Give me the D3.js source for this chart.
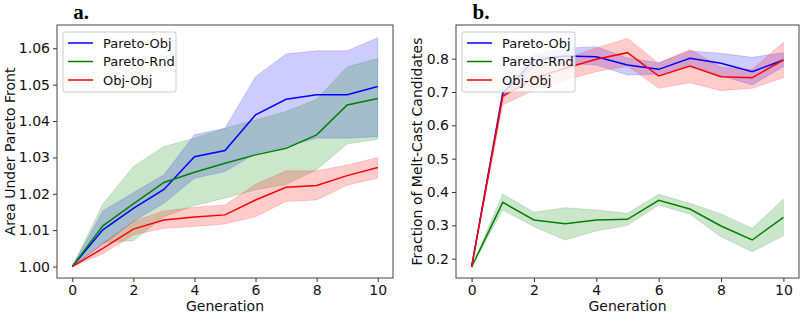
<!DOCTYPE html>
<html>
<head>
<meta charset="utf-8">
<script src="https://cdn.jsdelivr.net/npm/d3@7"></script>
<style>
  body { margin: 0; background: #fff; }
  svg { display: block; font-family: "DejaVu Sans", sans-serif; }
</style>
</head>
<body>
<svg id="chart" width="803" height="315"></svg>
<script>
var generations = [0, 1, 2, 3, 4, 5, 6, 7, 8, 9, 10];
var seriesNames = ["Pareto-Obj", "Pareto-Rnd", "Obj-Obj"];
var seriesColors = ["#0000ff", "#008000", "#ff0000"];

// panel a: area under pareto front (mean, lower, upper)
var areaParetoObj = [1.000, 1.0101, 1.0160, 1.0212, 1.0302, 1.0319, 1.0417, 1.0460, 1.0472, 1.0472, 1.0495];
var areaParetoObjLo = [1.000, 1.0060, 1.0124, 1.0174, 1.0243, 1.0261, 1.0311, 1.0330, 1.0353, 1.0353, 1.0357];
var areaParetoObjHi = [1.000, 1.0153, 1.0203, 1.0252, 1.0362, 1.0380, 1.0522, 1.0584, 1.0593, 1.0593, 1.0629];
var areaParetoRnd = [1.000, 1.0112, 1.0172, 1.0231, 1.0259, 1.0284, 1.0307, 1.0325, 1.0362, 1.0444, 1.0462];
var areaParetoRndLo = [1.000, 1.0066, 1.0071, 1.0137, 1.0168, 1.0188, 1.0211, 1.0226, 1.0266, 1.0337, 1.0350];
var areaParetoRndHi = [1.000, 1.0172, 1.0275, 1.0330, 1.0353, 1.0380, 1.0403, 1.0426, 1.0460, 1.0549, 1.0572];
var areaObjObj = [1.000, 1.0050, 1.0103, 1.0128, 1.0136, 1.0142, 1.0183, 1.0218, 1.0223, 1.0250, 1.0272];
var areaObjObjLo = [1.000, 1.0035, 1.0087, 1.0105, 1.0110, 1.0117, 1.0137, 1.0179, 1.0183, 1.0224, 1.0243];
var areaObjObjHi = [1.000, 1.0064, 1.0124, 1.0153, 1.0163, 1.0169, 1.0226, 1.0263, 1.0263, 1.0279, 1.0300];

// panel b: fraction of melt-cast candidates
var fracParetoObj = [0.175, 0.696, 0.795, 0.808, 0.806, 0.781, 0.768, 0.801, 0.786, 0.761, 0.796];
var fracParetoObjLo = [0.175, 0.680, 0.775, 0.786, 0.781, 0.751, 0.753, 0.781, 0.749, 0.721, 0.776];
var fracParetoObjHi = [0.175, 0.712, 0.812, 0.831, 0.836, 0.802, 0.788, 0.823, 0.816, 0.804, 0.818];
var fracParetoRnd = [0.175, 0.369, 0.316, 0.305, 0.316, 0.318, 0.375, 0.349, 0.298, 0.256, 0.324];
var fracParetoRndLo = [0.175, 0.346, 0.296, 0.256, 0.283, 0.300, 0.361, 0.333, 0.266, 0.221, 0.269];
var fracParetoRndHi = [0.175, 0.394, 0.339, 0.353, 0.346, 0.336, 0.393, 0.366, 0.334, 0.291, 0.379];
var fracObjObj = [0.175, 0.688, 0.741, 0.771, 0.798, 0.818, 0.748, 0.778, 0.746, 0.743, 0.796];
var fracObjObjLo = [0.175, 0.661, 0.706, 0.736, 0.761, 0.778, 0.711, 0.728, 0.704, 0.711, 0.743];
var fracObjObjHi = [0.175, 0.701, 0.780, 0.800, 0.832, 0.861, 0.786, 0.828, 0.774, 0.768, 0.849];

var areaTicks = [1.00, 1.01, 1.02, 1.03, 1.04, 1.05, 1.06];
var fracTicks = [0.2, 0.3, 0.4, 0.5, 0.6, 0.7, 0.8];
var genTicks = [0, 2, 4, 6, 8, 10];

var svg = d3.select("#chart");

function drawPanel(opts) {
  var g = svg.append("g").attr("transform", "translate(" + opts.left + "," + opts.top + ")");
  var w = opts.width, h = opts.height;

  var x = d3.scaleLinear().domain([-0.5, 10.5]).range([0, w]);
  var y = d3.scaleLinear().domain(opts.yDomain).range([h, 0]);

  // bands first
  opts.series.forEach(function(s, i) {
    var area = d3.area()
      .x(function(d, j) { return x(generations[j]); })
      .y0(function(d, j) { return y(s.lo[j]); })
      .y1(function(d, j) { return y(s.hi[j]); });
    g.append("path")
      .datum(s.mean)
      .attr("d", area)
      .attr("fill", seriesColors[i])
      .attr("fill-opacity", 0.2)
      .attr("stroke", seriesColors[i])
      .attr("stroke-opacity", 0.2)
      .attr("stroke-width", 0.8);
  });

  opts.series.forEach(function(s, i) {
    var line = d3.line()
      .x(function(d, j) { return x(generations[j]); })
      .y(function(d) { return y(d); });
    g.append("path")
      .datum(s.mean)
      .attr("d", line)
      .attr("fill", "none")
      .attr("stroke", seriesColors[i])
      .attr("stroke-width", 1.5);
  });

  // axes
  var xAxis = d3.axisBottom(x).tickValues(genTicks).tickSize(4).tickPadding(3);
  var yAxis = d3.axisLeft(y).tickValues(opts.yTicks).tickFormat(d3.format(opts.fmt)).tickSize(4).tickPadding(3);

  var gx = g.append("g").attr("transform", "translate(0," + h + ")").call(xAxis);
  var gy = g.append("g").call(yAxis);
  [gx, gy].forEach(function(a) {
    a.select(".domain").remove();
    a.selectAll("line").attr("stroke", "#333");
    a.selectAll("text").attr("font-size", 14).attr("fill", "#111")
      .attr("font-family", "DejaVu Sans, sans-serif");
  });

  g.append("rect")
    .attr("width", w).attr("height", h)
    .attr("fill", "none").attr("stroke", "#444").attr("stroke-width", 1);

  g.append("text")
    .attr("x", w / 2).attr("y", h + 33)
    .attr("text-anchor", "middle")
    .attr("font-size", 14).attr("fill", "#111")
    .text("Generation");

  g.append("text")
    .attr("transform", "translate(" + opts.yLabelX + "," + (h / 2) + ") rotate(-90)")
    .attr("text-anchor", "middle")
    .attr("font-size", 14).attr("fill", "#111")
    .text(opts.yLabel);

  g.append("text")
    .attr("x", x(0) + 1).attr("y", -6)
    .attr("font-family", "Liberation Serif, serif")
    .attr("font-weight", "bold")
    .attr("font-size", 21)
    .attr("fill", "#000")
    .text(opts.title);

  // legend
  var lg = g.append("g").attr("transform", "translate(6,7)");
  lg.append("rect")
    .attr("width", 113).attr("height", 60).attr("rx", 2)
    .attr("fill", "#fff").attr("fill-opacity", 0.8)
    .attr("stroke", "#ccc");
  seriesNames.forEach(function(name, i) {
    var yy = 11 + i * 18.5;
    lg.append("line")
      .attr("x1", 5).attr("x2", 30).attr("y1", yy).attr("y2", yy)
      .attr("stroke", seriesColors[i]).attr("stroke-width", 1.5);
    lg.append("text")
      .attr("x", 40).attr("y", yy + 4.5)
      .attr("font-size", 13).attr("fill", "#111")
      .text(name);
  });
}

drawPanel({
  left: 57, top: 25, width: 336, height: 253,
  yDomain: [0.99685, 1.0664],
  yTicks: areaTicks, fmt: ".2f",
  yLabel: "Area Under Pareto Front", yLabelX: -42,
  title: "a.",
  series: [
    { mean: areaParetoObj, lo: areaParetoObjLo, hi: areaParetoObjHi },
    { mean: areaParetoRnd, lo: areaParetoRndLo, hi: areaParetoRndHi },
    { mean: areaObjObj, lo: areaObjObjLo, hi: areaObjObjHi }
  ]
});

drawPanel({
  left: 456, top: 25, width: 343, height: 253,
  yDomain: [0.142, 0.901],
  yTicks: fracTicks, fmt: ".1f",
  yLabel: "Fraction of Melt-Cast Candidates", yLabelX: -34,
  title: "b.",
  series: [
    { mean: fracParetoObj, lo: fracParetoObjLo, hi: fracParetoObjHi },
    { mean: fracParetoRnd, lo: fracParetoRndLo, hi: fracParetoRndHi },
    { mean: fracObjObj, lo: fracObjObjLo, hi: fracObjObjHi }
  ]
});
</script>
</body>
</html>
